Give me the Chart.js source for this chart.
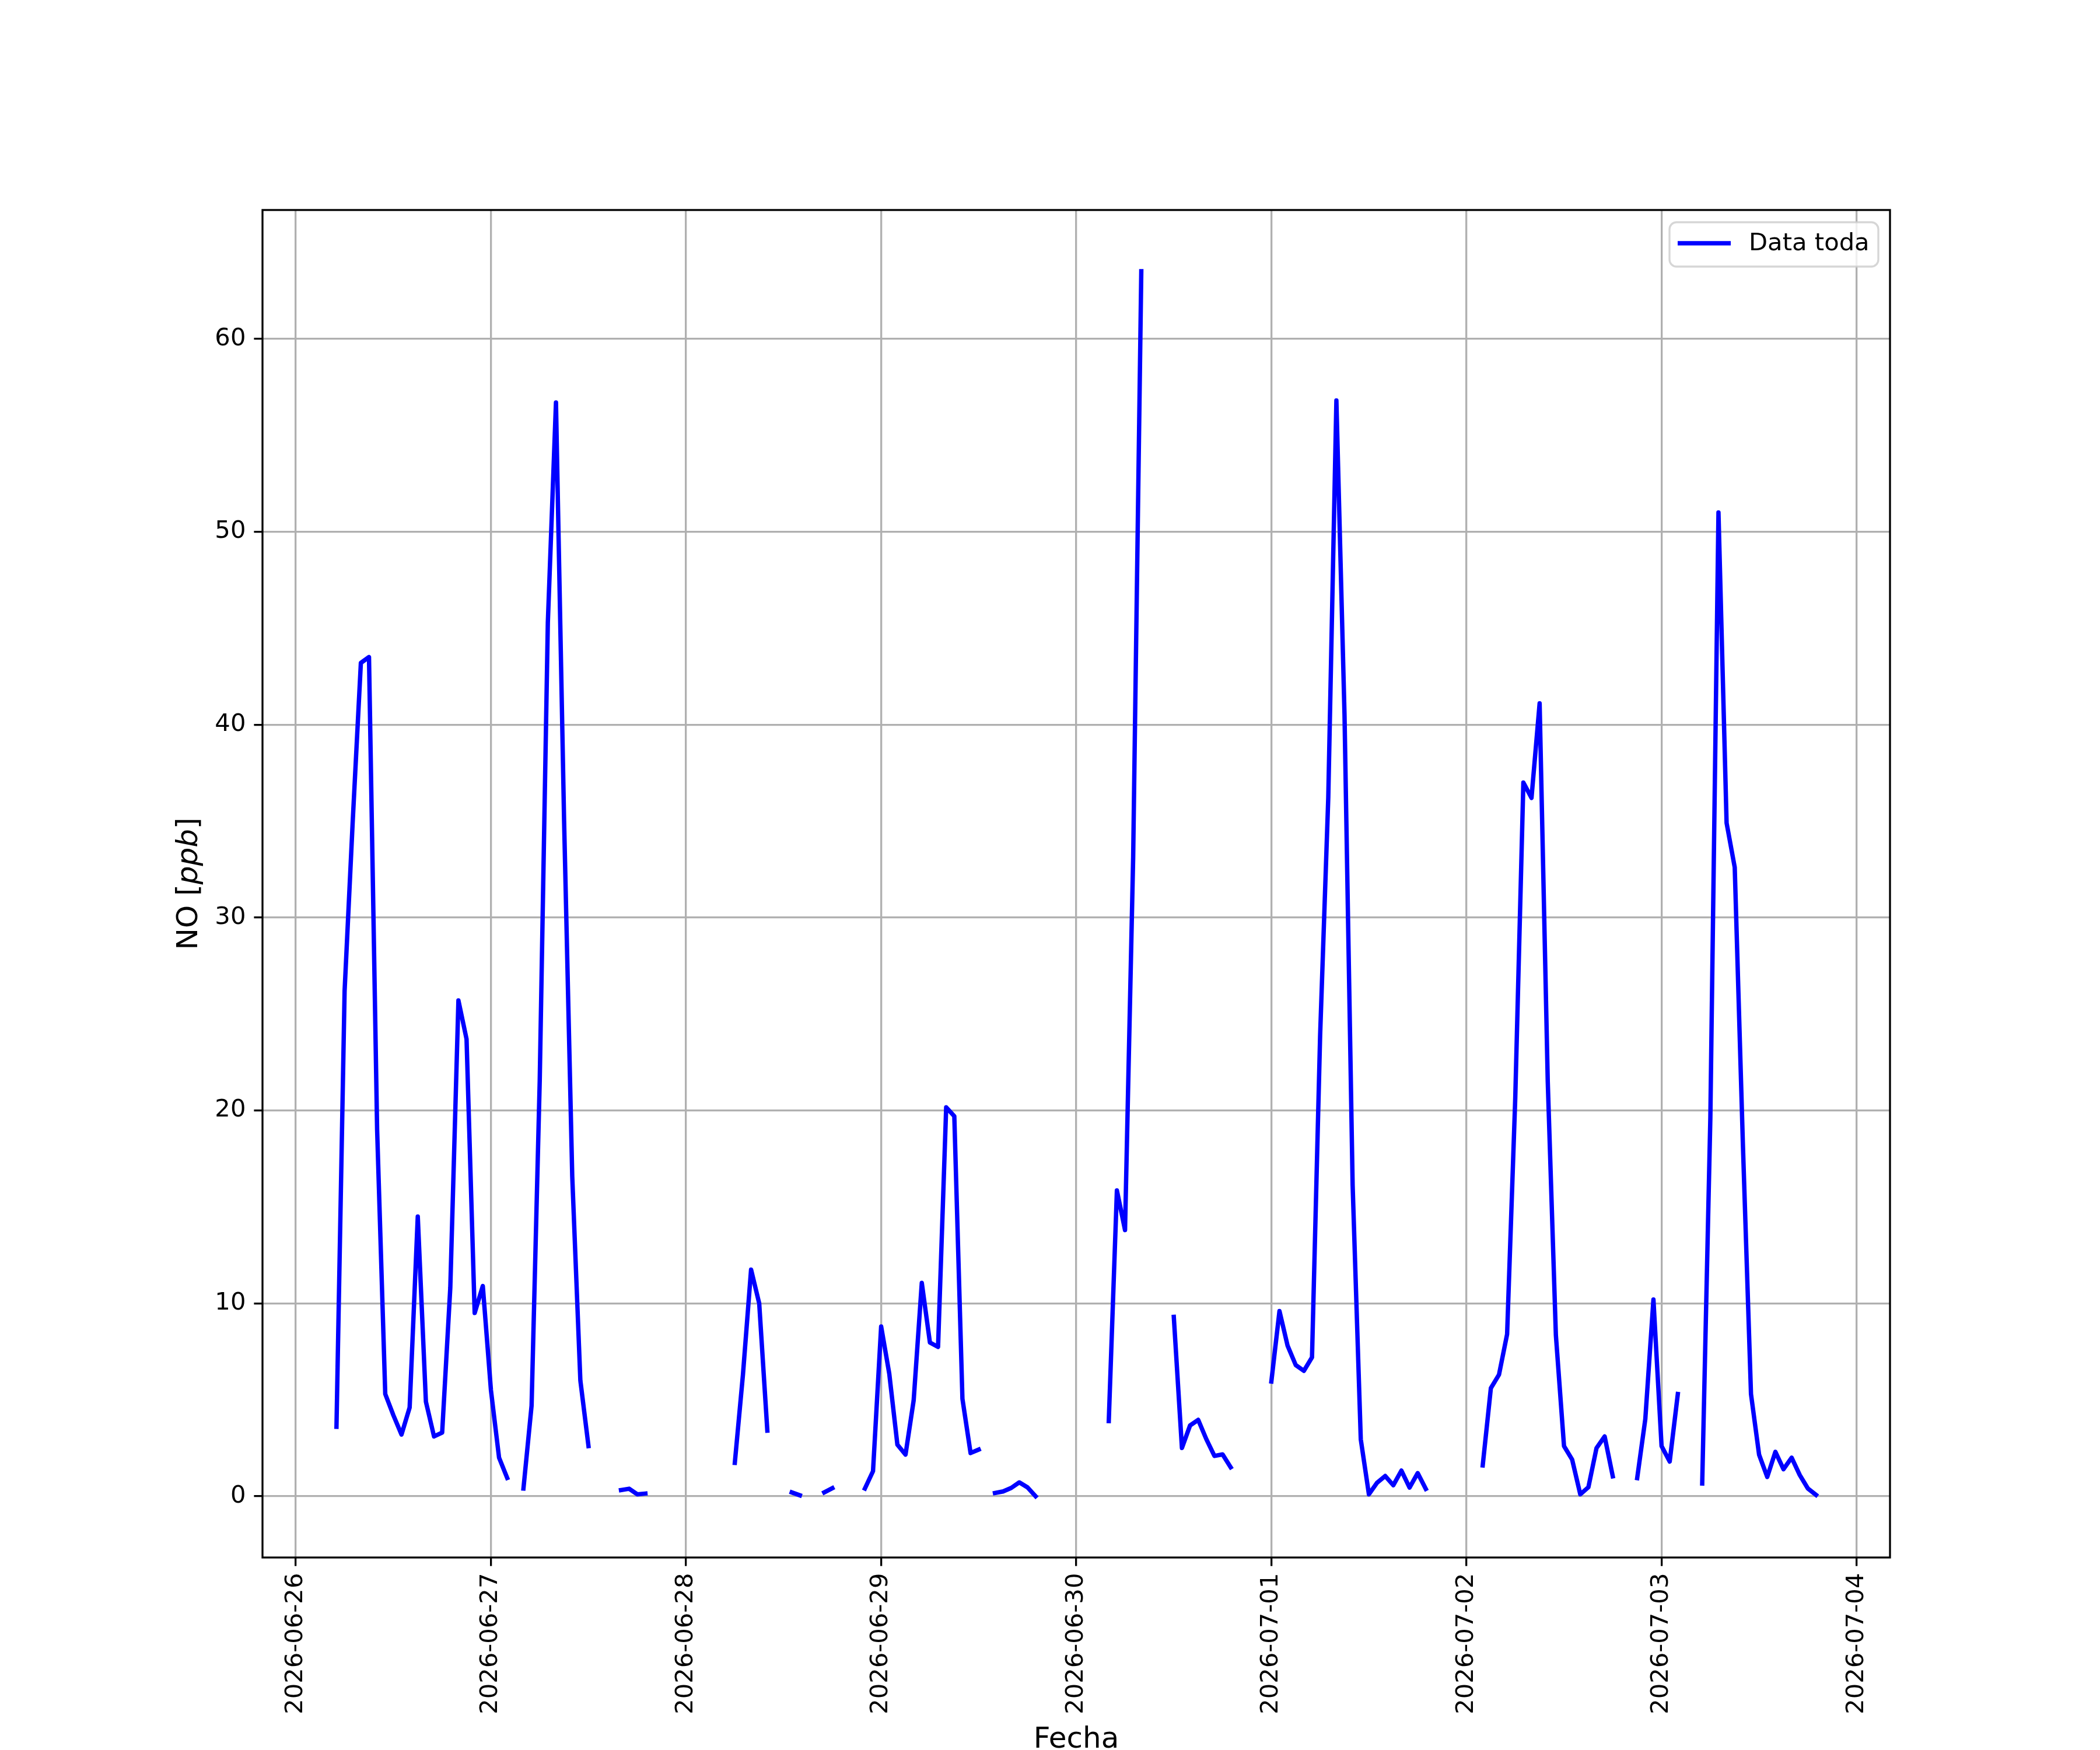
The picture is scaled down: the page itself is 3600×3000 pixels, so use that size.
<!DOCTYPE html>
<html>
<head>
<meta charset="utf-8">
<script src="https://cdn.jsdelivr.net/npm/chart.js@4.4.1/dist/chart.umd.min.js"></script>
<style>
  html, body { margin: 0; padding: 0; background: #ffffff; }
  #wrap { width: 3600px; height: 3000px; }
</style>
</head>
<body>
<div id="wrap"><canvas id="noChart" width="3600" height="3000"></canvas></div>
<script>
// Serie horaria de NO, empieza el 2026-06-26 a las 05:00 (null = sin dato)
const firstHour = 5;
const noValues = [
  3.6, 26.2, 35, 43.2, 43.5, 19, 5.3, 4.2, 3.2, 4.6, 14.5, 4.9, 3.1, 3.3, 10.8, 25.7, 23.7, 9.5, 10.9, 5.5, 2.0, 0.95,
  null,
  0.4, 4.7, 21.5, 45.3, 56.7, 35, 16.6, 6.0, 2.6,
  null, null, null,
  0.32, 0.39, 0.1, 0.14,
  null, null, null, null, null, null, null, null, null, null,
  1.73, 6.3, 11.75, 10.0, 3.4,
  null, null,
  0.2, 0.05,
  null, null,
  0.2, 0.42,
  null, null, null,
  0.4, 1.3, 8.8, 6.35, 2.67, 2.16, 4.97, 11.06, 7.97, 7.74, 20.16, 19.7, 5.05, 2.24, 2.42,
  null,
  0.17, 0.25, 0.43, 0.72, 0.46, 0.0,
  null, null, null, null, null, null, null, null,
  3.9, 15.85, 13.8, 33.1, 63.5,
  null, null, null,
  9.3, 2.5, 3.67, 3.96, 2.96, 2.09, 2.17, 1.5,
  null, null, null, null,
  5.95, 9.6, 7.8, 6.8, 6.5, 7.2, 23.9, 36.2, 56.8, 40.5, 16.1, 2.95, 0.1, 0.7, 1.05, 0.57, 1.33, 0.45, 1.2, 0.38,
  null, null, null, null, null, null,
  1.6, 5.6, 6.3, 8.4, 20.6, 37.0, 36.2, 41.1, 21.5, 8.35, 2.6, 1.9, 0.1, 0.47, 2.5, 3.1, 1.03,
  null, null,
  0.94, 4.0, 10.2, 2.6, 1.8, 5.3,
  null, null,
  0.66, 19.6, 51.0, 34.9, 32.6, 18.3, 5.3, 2.15, 1.0, 2.3, 1.4, 2.0, 1.1, 0.4, 0.07
];

// Etiquetas de los días (una marca cada 24 h)
const dayLabels = ['2026-06-26', '2026-06-27', '2026-06-28', '2026-06-29', '2026-06-30',
                   '2026-07-01', '2026-07-02', '2026-07-03', '2026-07-04'];
const yTicks = [0, 10, 20, 30, 40, 50, 60];

const seriesLabel = 'Data toda';
const xTitle = 'Fecha';

const FONT = "'DejaVu Sans', sans-serif";
const TICK_PX = 41.7;
const LABEL_PX = 50;

// puntos {x: horas desde 2026-06-26 00:00, y: valor}
const points = noValues.map(function(v, i) {
    return { x: firstHour + i, y: v };
});

// caja de ejes, titulos y leyenda
const framePlugin = {
    id: 'framePlugin',
    afterDraw: function(chart) {
        const ctx = chart.ctx;
        const a = chart.chartArea;
        ctx.save();

        // marco completo
        ctx.strokeStyle = '#000000';
        ctx.lineWidth = 3.3;
        ctx.strokeRect(a.left, a.top, a.right - a.left, a.bottom - a.top);

        // leyenda
        const lw = 358, lh = 76;
        const lx = a.right - 20 - lw, ly = a.top + 21;
        const r = 12;
        ctx.beginPath();
        ctx.moveTo(lx + r, ly);
        ctx.arcTo(lx + lw, ly, lx + lw, ly + lh, r);
        ctx.arcTo(lx + lw, ly + lh, lx, ly + lh, r);
        ctx.arcTo(lx, ly + lh, lx, ly, r);
        ctx.arcTo(lx, ly, lx + lw, ly, r);
        ctx.closePath();
        ctx.fillStyle = 'rgba(255,255,255,0.8)';
        ctx.fill();
        ctx.strokeStyle = 'rgba(204,204,204,0.8)';
        ctx.lineWidth = 3.3;
        ctx.stroke();

        ctx.beginPath();
        ctx.moveTo(lx + 14, ly + 36);
        ctx.lineTo(lx + 105, ly + 36);
        ctx.strokeStyle = '#0000ff';
        ctx.lineWidth = 7.5;
        ctx.lineCap = 'butt';
        ctx.stroke();

        ctx.fillStyle = '#000000';
        ctx.font = TICK_PX + 'px ' + FONT;
        ctx.textAlign = 'left';
        ctx.textBaseline = 'middle';
        ctx.fillText(seriesLabel, lx + 136, ly + 37);

        // titulo eje x
        ctx.font = LABEL_PX + 'px ' + FONT;
        ctx.textAlign = 'center';
        ctx.textBaseline = 'alphabetic';
        ctx.fillText(xTitle, (a.left + a.right) / 2, 2996);

        // titulo eje y: NO [ppb] con ppb en cursiva
        const parts = [
            { t: 'NO [', f: LABEL_PX + 'px ' + FONT },
            { t: 'ppb', f: 'italic ' + LABEL_PX + 'px ' + FONT },
            { t: ']', f: LABEL_PX + 'px ' + FONT }
        ];
        let total = 0;
        parts.forEach(function(p) {
            ctx.font = p.f;
            p.w = ctx.measureText(p.t).width;
            total += p.w;
        });
        ctx.translate(338, (a.top + a.bottom) / 2);
        ctx.rotate(-Math.PI / 2);
        ctx.textAlign = 'left';
        let cx = -total / 2;
        parts.forEach(function(p) {
            ctx.font = p.f;
            ctx.fillText(p.t, cx, 0);
            cx += p.w;
        });
        ctx.restore();
    }
};

const ctx = document.getElementById('noChart').getContext('2d');
new Chart(ctx, {
    type: 'line',
    data: {
        datasets: [{
            label: seriesLabel,
            data: points,
            borderColor: '#0000ff',
            backgroundColor: '#0000ff',
            borderWidth: 7.5,
            pointRadius: 0,
            tension: 0,
            spanGaps: false,
            borderCapStyle: 'square',
            borderJoinStyle: 'round',
            fill: false
        }]
    },
    options: {
        responsive: false,
        animation: false,
        devicePixelRatio: 1,
        layout: {
            autoPadding: false,
            padding: { left: 0, top: 360, right: 360, bottom: 0 }
        },
        plugins: {
            legend: { display: false },
            tooltip: { enabled: false }
        },
        scales: {
            x: {
                type: 'linear',
                min: -4.1,
                max: 196.1,
                afterBuildTicks: function(scale) {
                    scale.ticks = dayLabels.map(function(d, i) { return { value: i * 24 }; });
                },
                afterFit: function(scale) { scale.height = 330; },
                grid: {
                    color: '#b0b0b0',
                    lineWidth: 3.3,
                    tickColor: '#000000',
                    tickWidth: 3.3,
                    tickLength: 14.6
                },
                border: { display: false },
                ticks: {
                    autoSkip: false,
                    minRotation: 90,
                    maxRotation: 90,
                    padding: 12,
                    color: '#000000',
                    font: { family: FONT, size: TICK_PX },
                    callback: function(value, index) { return dayLabels[index]; }
                }
            },
            y: {
                type: 'linear',
                min: -3.175,
                max: 66.675,
                afterBuildTicks: function(scale) {
                    scale.ticks = yTicks.map(function(v) { return { value: v }; });
                },
                afterFit: function(scale) { scale.width = 450; },
                grid: {
                    color: '#b0b0b0',
                    lineWidth: 3.3,
                    tickColor: '#000000',
                    tickWidth: 3.3,
                    tickLength: 14.6
                },
                border: { display: false },
                ticks: {
                    padding: 14,
                    color: '#000000',
                    font: { family: FONT, size: TICK_PX },
                    callback: function(value) { return String(value); }
                }
            }
        }
    },
    plugins: [framePlugin]
});
</script>
</body>
</html>
